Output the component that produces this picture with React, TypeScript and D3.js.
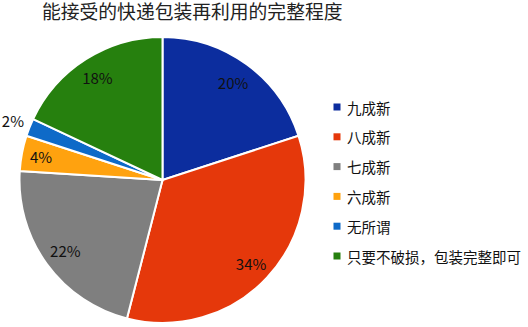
import * as d3 from "d3";
import * as React from "react";

const categories = ["九成新", "八成新", "七成新", "六成新", "无所谓", "只要不破损，包装完整即可"];
const values = [20, 34, 22, 4, 2, 18];
const colors = ["#0C2D9E", "#E5380B", "#7F7F7F", "#FFA20F", "#0E6AC8", "#26800E"];
// label distance from centre, as a share of the radius
const labelRadius = [0.84, 0.85, 0.84, 0.865, 1.125, 0.85];

const width = 528;
const height = 327;
const cx = 162.5;
const cy = 180;
const radius = 143;
const font = "'Noto Sans CJK SC', 'Noto Sans', sans-serif";

export default function App() {
  const pie = d3
    .pie<number>()
    .sort(null)
    .value((d) => d);
  const arcs = pie(values);
  const arc = d3.arc<d3.PieArcDatum<number>>().innerRadius(0).outerRadius(radius);
  const total = d3.sum(values);

  return (
    <svg
      width={width}
      height={height}
      style={{ position: "absolute", left: 0, top: 0, background: "#fff" }}
    >
      <text x={42} y={19} fontFamily={font} fontSize={18.8} fill="#222">
        能接受的快递包装再利用的完整程度
      </text>
      <g transform={`translate(${cx},${cy})`}>
        {arcs.map((d, i) => (
          <path key={i} d={arc(d) || ""} fill={colors[i]} stroke="#fff" strokeWidth={2} />
        ))}
        {arcs.map((d, i) => {
          const a = (d.startAngle + d.endAngle) / 2;
          const r = radius * labelRadius[i];
          return (
            <text
              key={"l" + i}
              x={Math.sin(a) * r}
              y={-Math.cos(a) * r}
              textAnchor="middle"
              dominantBaseline="central"
              fontFamily={font}
              fontSize={15}
              fill="#111"
            >
              {Math.round((values[i] / total) * 100) + "%"}
            </text>
          );
        })}
      </g>
      {categories.map((c, i) => (
        <g key={c} transform={`translate(337,${107 + i * 29.8})`}>
          <rect x={-3.5} y={-3.5} width={7} height={7} fill={colors[i]} />
          <text
            x={10}
            y={0}
            dominantBaseline="central"
            fontFamily={font}
            fontSize={14.5}
            fill="#111"
          >
            {c}
          </text>
        </g>
      ))}
    </svg>
  );
}
